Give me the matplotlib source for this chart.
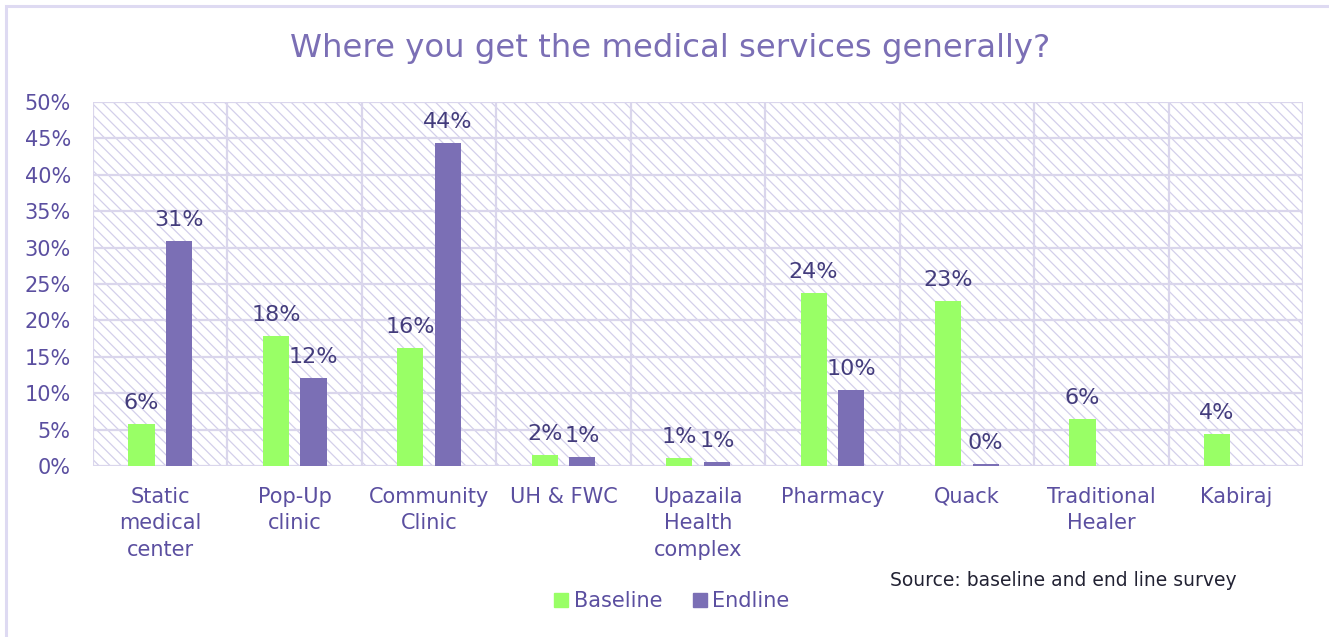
import matplotlib.pyplot as plt
import numpy as np
from matplotlib.patches import Rectangle
from matplotlib.lines import Line2D

# survey results, share of respondents (%)
categories = [
    "Static\nmedical\ncenter",
    "Pop-Up\nclinic",
    "Community\nClinic",
    "UH & FWC",
    "Upazaila\nHealth\ncomplex",
    "Pharmacy",
    "Quack",
    "Traditional\nHealer",
    "Kabiraj",
]
baseline = [5.8, 17.9, 16.2, 1.5, 1.1, 23.8, 22.7, 6.4, 4.4]
endline = [30.9, 12.1, 44.3, 1.2, 0.6, 10.4, 0.3, np.nan, np.nan]
yticks = [0, 5, 10, 15, 20, 25, 30, 35, 40, 45, 50]

GREEN = "#99FF66"
PURPLE = "#7B6FB5"
TICK_COLOR = "#5B4FA0"
LABEL_COLOR = "#433C7C"
GRID_COLOR = "#DAD6EC"
HATCH_COLOR = "#D3CFEA"

plt.rcParams["font.family"] = ["DejaVu Sans"]
plt.rcParams["hatch.linewidth"] = 0.9

fig = plt.figure(figsize=(13.29, 6.37), dpi=100)
ax = fig.add_axes([93 / 1329, 1 - 466 / 637, 1210 / 1329, 364 / 637])

# outer frame of the chart area
fig.patches.append(Rectangle((6 / 1329, -0.05), 1.1, 1 - 6 / 637 + 0.05,
                             transform=fig.transFigure, fill=False,
                             edgecolor="#DEDAF2", linewidth=2.2, zorder=0))

# hatched plot background
ax.add_patch(Rectangle((0, 0), 1, 1, transform=ax.transAxes, fill=False,
                       edgecolor=HATCH_COLOR, hatch="\\" * 3, linewidth=0,
                       zorder=0))

x = np.arange(len(categories))
offset = 0.14
width = 0.195
b1 = ax.bar(x - offset, baseline, width, color=GREEN, zorder=3, label="Baseline")
b2 = ax.bar(x + offset, endline, width, color=PURPLE, zorder=3, label="Endline")

for bars, vals in ((b1, baseline), (b2, endline)):
    for rect, v in zip(bars, vals):
        if np.isnan(v):
            continue
        ax.annotate(f"{v:.0f}%", (rect.get_x() + rect.get_width() / 2, v),
                    xytext=(0, 8), textcoords="offset points",
                    ha="center", va="bottom", fontsize=16,
                    color=LABEL_COLOR, zorder=4)

ax.set_xlim(-0.5, len(categories) - 0.5)
ax.set_ylim(0, 50)
ax.set_yticks(yticks)
ax.set_yticklabels([f"{t}%" for t in yticks])
ax.set_xticks(x)
ax.set_xticklabels(categories, linespacing=1.4)
ax.tick_params(axis="both", length=0, labelsize=15, labelcolor=TICK_COLOR)
ax.tick_params(axis="x", pad=15)
ax.tick_params(axis="y", pad=16)

# grid: horizontal at each tick, vertical between categories
for t in yticks:
    ax.axhline(t, color=GRID_COLOR, linewidth=1.6, zorder=1)
for b in np.arange(-0.5, len(categories), 1.0):
    ax.axvline(b, color=GRID_COLOR, linewidth=1.6, zorder=1)
for s in ax.spines.values():
    s.set_visible(False)
ax.set_facecolor("none")

fig.text(0.504, 1 - 48 / 637, "Where you get the medical services generally?",
         ha="center", va="center", fontsize=23.3, color=PURPLE)

handles = [
    Line2D([], [], marker="s", linestyle="none", markersize=10,
           markerfacecolor=GREEN, markeredgecolor=GREEN, label="Baseline"),
    Line2D([], [], marker="s", linestyle="none", markersize=10,
           markerfacecolor=PURPLE, markeredgecolor=PURPLE, label="Endline"),
]
leg = fig.legend(handles=handles, loc="center", ncol=2, frameon=False,
                 bbox_to_anchor=(670 / 1329, 1 - 601 / 637), fontsize=15,
                 handletextpad=0.1, columnspacing=1.3, handlelength=1.0)
for t in leg.get_texts():
    t.set_color(TICK_COLOR)

fig.text(890 / 1329, 1 - 581 / 637, "Source: baseline and end line survey",
         ha="left", va="center", fontsize=13.5, color="#222233")

fig.savefig("out.png", dpi=100)
